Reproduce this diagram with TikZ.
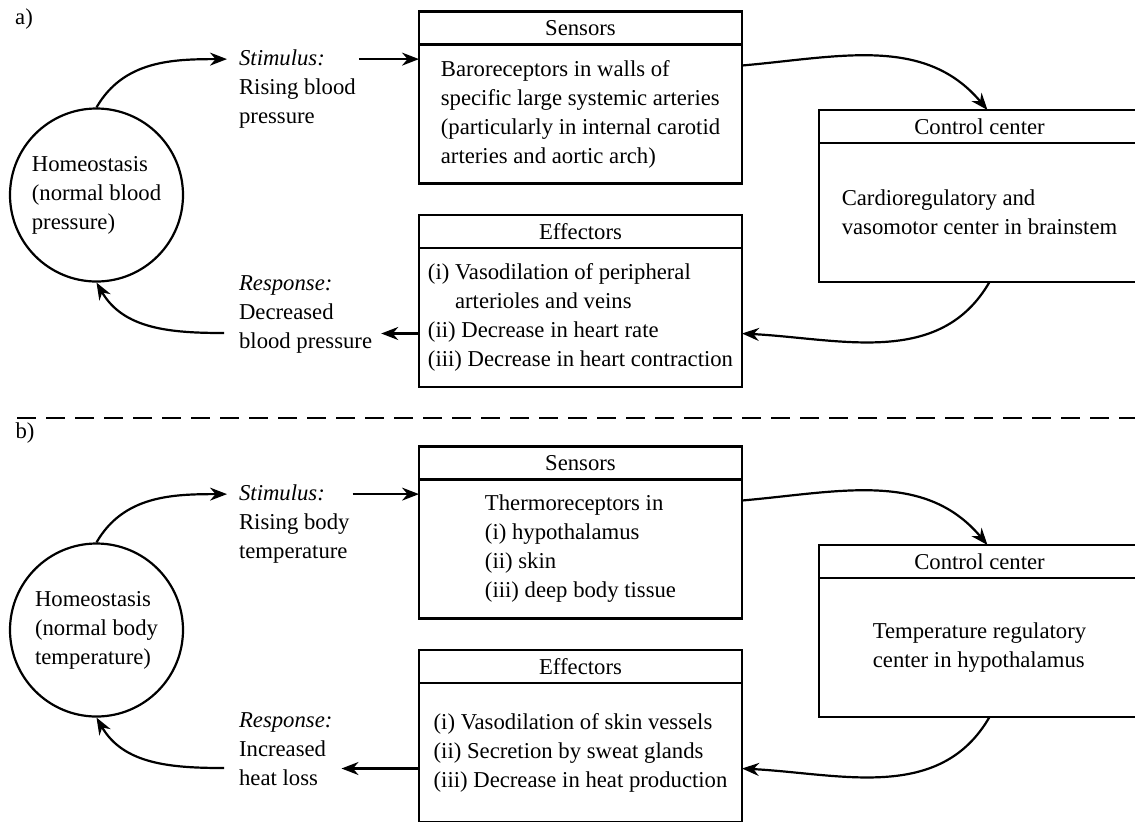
\documentclass[tikz,border=0pt]{standalone}
\usepackage{fontspec}
\setmainfont{Liberation Serif}
\usetikzlibrary{arrows.meta, positioning, calc}
\tikzset{>={Stealth[length=8.5pt,width=6.5pt]},
  head/.style={draw, outer sep=0pt, minimum width=161.5pt, minimum height=16.5pt, inner sep=1pt},
  body/.style={draw, outer sep=0pt, minimum width=161.5pt, minimum height=69.5pt, inner sep=2pt, align=left},
  home/.style={draw, circle, minimum size=86.5pt, inner sep=0pt, align=left},
  txt/.style={align=left, inner sep=4pt, anchor=west}}

\begin{document}
\begin{tikzpicture}[x=0.5pt, y=0.5pt, line width=1.1pt, font=\fontsize{11.35}{14.5}\selectfont]
    \useasboundingbox (0,0) rectangle (1135,-821);
    \node (labA) at (24,-19) {a)};
    \node[home] (homA) at (96.5,-195) {Homeostasis\\(normal blood\\pressure)};
    \node[txt] (stimA) at (230,-89) {\textit{Stimulus:}\\Rising blood\\pressure};
    \node[txt] (respA) at (230,-314) {\textit{Response:}\\Decreased\\blood pressure};
    \node[head] (sensA) at (580.5,-28) {Sensors};
    \node[body, below=0pt of sensA] (sensAb) {Baroreceptors in walls of\\specific large systemic arteries\\(particularly in internal carotid\\arteries and aortic arch)};
    \node[head] (effA) at (580.5,-231.5) {Effectors};
    \node[body, below=0pt of effA] (effAb) {(i) Vasodilation of peripheral\\\phantom{(i) }arterioles and veins\\(ii) Decrease in heart rate\\(iii) Decrease in heart contraction};
    \node[head, minimum width=160.5pt] (ctrlA) at (979.5,-126.5) {Control center};
    \node[body, minimum width=160.5pt, below=0pt of ctrlA] (ctrlAb) {Cardioregulatory and\\vasomotor center in brainstem};
    \draw[->] (homA.north) to[out=60,in=180] ($(stimA.north west)+(-3,-18.5)$);
    \draw[->] ($(stimA.north east)+(-6,-18.5)$) coordinate (sA) -- (sA -| sensAb.west);
    \draw[->] ($(sensAb.north east)+(0,-21)$) to[out=5,in=130] ($(ctrlA.north)+(8,0)$);
    \draw[->] ($(effAb.west)+(0,-16)$) coordinate (eA) -- (eA -| respA.east);
    \draw[->] ($(ctrlAb.south)+(10,0)$) to[out=-120,in=-3] (eA -| effAb.east);
    \draw[->] ($(respA.west)+(-6,-19)$) to[out=180,in=-60] (homA.south);

    \coordinate (sepL) at (17,-418);
    \coordinate (sepR) at (1135,-418);
    \draw[dash pattern=on 9.5pt off 5pt] (sepL) -- (sepR);

    \node (labB) at (25,-433) {b)};
    \begin{scope}[yshift=-217.5pt]
    \node[home] (homB) at (96.5,-195) {Homeostasis\\(normal body\\temperature)};
    \node[txt] (stimB) at (230,-89) {\textit{Stimulus:}\\Rising body\\temperature};
    \node[txt] (respB) at (230,-314) {\textit{Response:}\\Increased\\heat loss};
    \node[head] (sensB) at (580.5,-28) {Sensors};
    \node[body, below=0pt of sensB] (sensBb) {Thermoreceptors in\\(i) hypothalamus\\(ii) skin\\(iii) deep body tissue};
    \node[head] (effB) at (580.5,-231.5) {Effectors};
    \node[body, below=0pt of effB] (effBb) {(i) Vasodilation of skin vessels\\(ii) Secretion by sweat glands\\(iii) Decrease in heat production};
    \node[head, minimum width=160.5pt] (ctrlB) at (979.5,-126.5) {Control center};
    \node[body, minimum width=160.5pt, below=0pt of ctrlB] (ctrlBb) {Temperature regulatory\\center in hypothalamus};
    \draw[->] (homB.north) to[out=60,in=180] ($(stimB.north west)+(-3,-18.5)$);
    \draw[->] ($(stimB.north east)+(-6,-18.5)$) coordinate (sB) -- (sB -| sensBb.west);
    \draw[->] ($(sensBb.north east)+(0,-21)$) to[out=5,in=130] ($(ctrlB.north)+(8,0)$);
    \draw[->] ($(effBb.west)+(0,-16)$) coordinate (eB) -- (eB -| respB.east);
    \draw[->] ($(ctrlBb.south)+(10,0)$) to[out=-120,in=-3] (eB -| effBb.east);
    \draw[->] ($(respB.west)+(-6,-19)$) to[out=180,in=-60] (homB.south);
    \end{scope}
\end{tikzpicture}
\end{document}
